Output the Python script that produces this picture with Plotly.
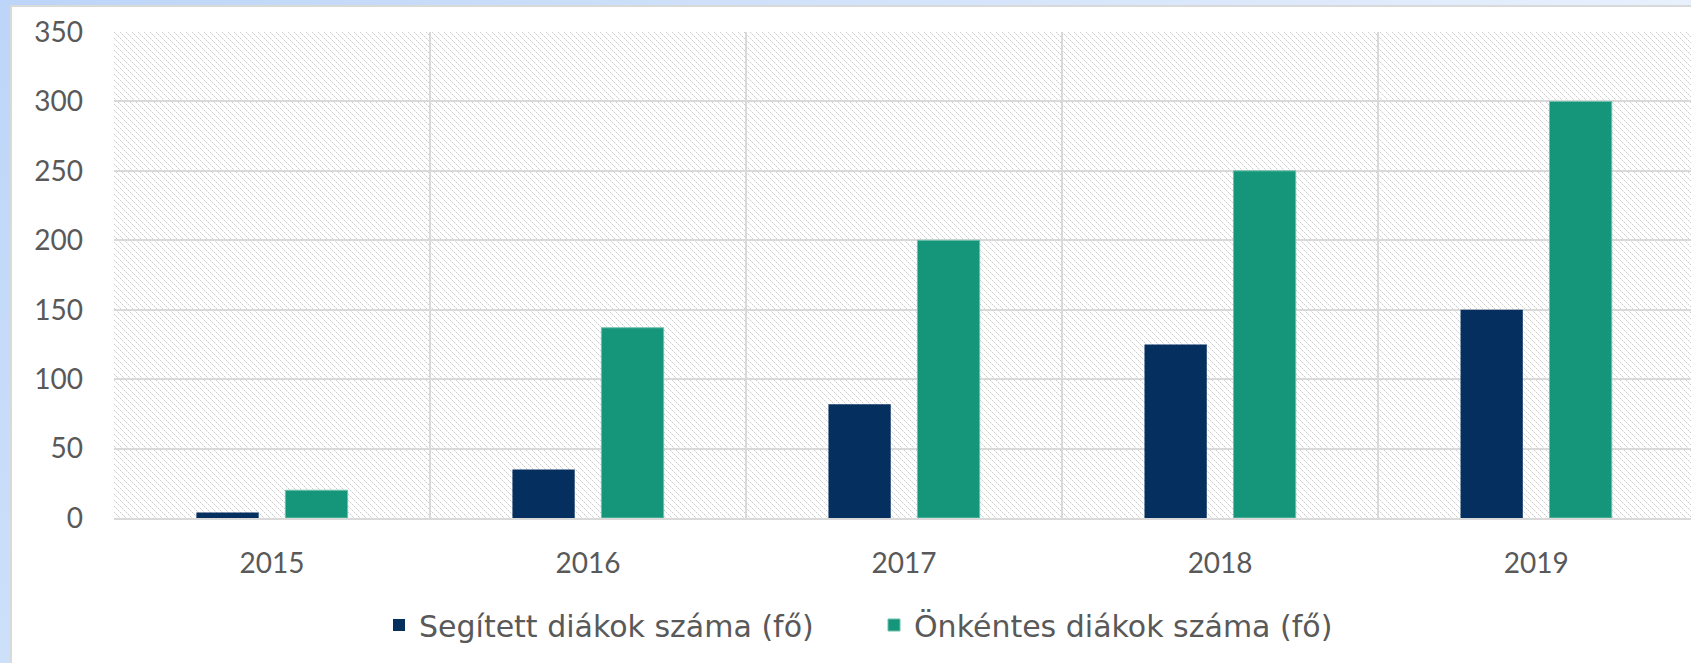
import base64
import plotly.graph_objects as go

years = ["2015", "2016", "2017", "2018", "2019"]
segitett = [4, 35, 82, 125, 150]
onkentes = [20, 137, 200, 250, 300]
series_names = ["Segített diákok száma (fő)", "Önkéntes diákok száma (fő)"]
colors = ["#052f5f", "#15957a"]
y_ticks = [0, 50, 100, 150, 200, 250, 300, 350]

W, H = 1691, 663
ML, MT, MB, MR = 114, 32, 145, 0
PW, PH = W - ML - MR, H - MT - MB
TICK_FONT = "Lato"
LEG_FONT = "DejaVu Sans"
TXT = "#595959"
GRID = "#d9d9d9"


def svg_uri(svg):
    return "data:image/svg+xml;base64," + base64.b64encode(svg.encode()).decode()


hatch_svg = (
    f'<svg xmlns="http://www.w3.org/2000/svg" width="{PW}" height="{PH}" shape-rendering="crispEdges">'
    '<defs><pattern id="h" width="6" height="6" patternUnits="userSpaceOnUse">'
    '<rect x="0" y="0" width="1" height="1" fill="#cdcdcd"/>'
    '<rect x="2" y="2" width="1" height="1" fill="#cdcdcd"/>'
    '<rect x="4" y="4" width="1" height="1" fill="#cdcdcd"/>'
    '<rect x="1" y="1" width="1" height="1" fill="#e6e6e6"/>'
    '<rect x="3" y="3" width="1" height="1" fill="#e6e6e6"/>'
    '<rect x="5" y="5" width="1" height="1" fill="#e6e6e6"/>'
    '</pattern></defs>'
    f'<rect width="{PW}" height="{PH}" fill="white"/>'
    f'<rect width="{PW}" height="{PH}" fill="url(#h)"/></svg>'
)
bg_svg = (
    f'<svg xmlns="http://www.w3.org/2000/svg" width="{W}" height="{H}">'
    '<defs><linearGradient id="g" x1="0" y1="0" x2="1" y2="0.4">'
    '<stop offset="0" stop-color="#bcd5f8"/><stop offset="1" stop-color="#eef4fd"/>'
    '</linearGradient></defs>'
    f'<rect width="{W}" height="{H}" fill="url(#g)"/></svg>'
)

fig = go.Figure()
fig.add_trace(go.Bar(x=years, y=segitett, name=series_names[0],
                     marker=dict(color=colors[0], line=dict(width=0))))
fig.add_trace(go.Bar(x=years, y=onkentes, name=series_names[1],
                     marker=dict(color=colors[1], line=dict(width=1, color="#6fc0ad"))))


def px_x(p):
    return (p - ML) / PW


def px_y(p):
    return (MT + PH - p) / PH


fig.update_layout(
    width=W, height=H,
    margin=dict(l=ML, r=MR, t=MT, b=MB, pad=0, autoexpand=False),
    paper_bgcolor="#d6e6fb",
    plot_bgcolor="rgba(0,0,0,0)",
    barmode="group", bargap=0.437, bargroupgap=0.30,
    font=dict(family=TICK_FONT, size=28, color=TXT),
    showlegend=True,
    legend=dict(orientation="h", x=px_x(379), xanchor="left", y=px_y(625), yanchor="middle",
                font=dict(family=LEG_FONT, size=30, color=TXT), bgcolor="rgba(0,0,0,0)",
                itemwidth=30, traceorder="normal", entrywidth=450),
    xaxis=dict(type="category", tickson="boundaries", showgrid=True, gridcolor=GRID, gridwidth=2,
               showline=True, linecolor=GRID, linewidth=2, ticks="", range=[-0.5, 4.49],
               automargin=False, ticklabelstandoff=19, tickfont=dict(size=28, color=TXT)),
    yaxis=dict(range=[0, 350], tickvals=y_ticks, showgrid=True, gridcolor=GRID, gridwidth=2,
               zeroline=False, showline=False, ticks="", ticklabelstandoff=30,
               automargin=False, tickfont=dict(size=28, color=TXT)),
    images=[
        dict(source=svg_uri(bg_svg), xref="paper", yref="paper", x=px_x(0), y=px_y(0),
             sizex=W / PW, sizey=H / PH, sizing="stretch", layer="below",
             xanchor="left", yanchor="top"),
        dict(source=svg_uri(hatch_svg), xref="x domain", yref="y domain", x=0, y=1,
             sizex=1, sizey=1, sizing="stretch", layer="below", xanchor="left", yanchor="top"),
    ],
    shapes=[
        dict(type="rect", xref="paper", yref="paper", x0=px_x(11), x1=px_x(W + 20),
             y0=px_y(H + 20), y1=px_y(6), fillcolor="white",
             line=dict(color="#d9d9d9", width=2), layer="below"),
    ],
)

fig.write_html("out.html", config={"displayModeBar": False},
               post_script="document.body.style.margin='0';")
